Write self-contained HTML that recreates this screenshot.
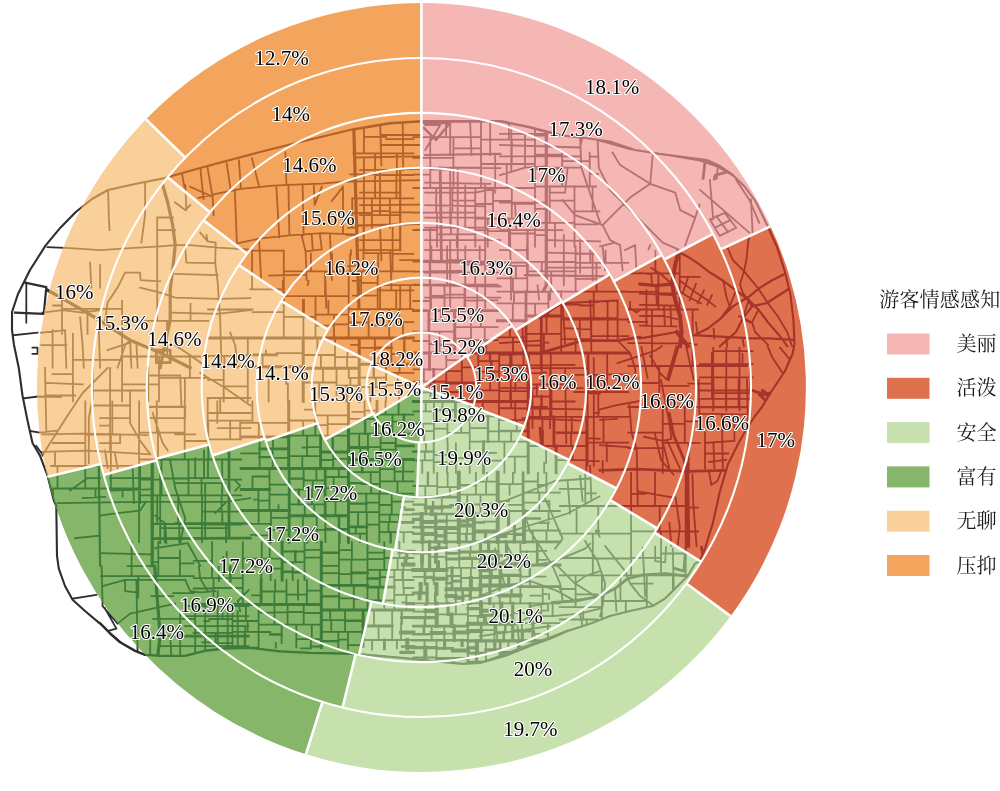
<!DOCTYPE html>
<html lang="zh"><head><meta charset="utf-8"><title>游客情感感知</title>
<style>
html,body{margin:0;padding:0;background:#fff}
body{width:1000px;height:791px;overflow:hidden}
svg{display:block}
.lab text{font-family:"Liberation Serif","Noto Serif CJK SC",serif;font-size:21px;text-anchor:middle;fill:#000;stroke:#fff;stroke-width:2.2px;paint-order:stroke fill;stroke-linejoin:round;font-kerning:none}
.cjk{font-family:"Liberation Serif","Noto Serif CJK SC",serif;font-size:20px;fill:#1a1a1a;font-weight:400}
</style></head><body>
<svg width="1000" height="791" viewBox="0 0 1000 791">
<rect width="1000" height="791" fill="#fff"/>
<defs><clipPath id="mapclip"><path d="M75.8,212.0L92.0,199.0L108.0,190.0L135.0,184.0L165.0,178.0L200.0,168.0L260.0,152.0L300.0,142.0L354.0,129.0L390.0,123.0L422.0,121.0L501.0,121.0L530.0,127.0L562.0,135.5L585.0,138.0L610.0,141.5L635.0,150.0L659.0,153.7L707.0,160.0L720.0,166.0L731.8,174.0L745.0,187.0L756.0,202.0L768.0,227.0L777.0,247.0L785.0,272.0L790.5,295.0L793.5,321.0L794.5,344.0L792.5,354.0L785.0,371.0L772.0,390.5L762.0,407.0L755.0,416.0L747.0,428.0L738.6,443.0L728.0,464.0L720.0,491.0L712.7,523.6L705.0,548.6L700.0,561.0L695.0,563.6L687.7,576.0L677.7,586.0L665.0,598.6L652.7,606.0L630.0,611.0L610.0,616.0L590.0,623.7L567.6,631.0L550.0,638.7L530.0,646.0L505.0,656.0L480.0,663.0L462.0,664.0L401.0,658.0L356.0,654.0L310.0,653.0L280.0,651.5L250.0,648.0L225.0,648.6L205.0,651.0L185.0,656.0L160.0,656.0L145.0,655.0L135.0,651.0L120.0,642.4L110.0,633.6L100.0,623.6L85.0,611.0L72.6,599.8L65.0,586.0L58.8,568.6L57.0,556.0L56.3,506.0L53.8,500.6L47.5,475.6L40.0,455.6L32.5,443.0L27.5,420.5L22.5,395.5L18.8,368.0L14.0,345.0L12.0,330.0L12.0,312.0L18.0,294.0L24.0,282.0L30.0,270.0L45.5,245.6L60.6,227.4Z"/></clipPath><g id="R" fill="none" stroke-linecap="square" stroke-linejoin="round"><g clip-path="url(#mapclip)"><path d="M122.1,300.8L122.1,401.3M62.0,300.0L62.0,333.8M53.1,305.5L62.0,305.5M62.0,308.9L122.1,308.9M87.5,308.9L87.5,333.8M72.9,333.8L72.9,401.3M52.6,374.1L72.9,374.1M72.9,359.8L122.1,359.8M122.1,320.9L208.1,320.9M190.5,303.9L190.5,320.9M122.1,356.5L208.1,356.5M167.1,320.9L167.1,356.5M159.0,356.5L159.0,401.3M122.1,384.4L159.0,384.4M159.0,377.9L208.1,377.9M189.9,356.5L189.9,377.9M184.9,377.9L184.9,401.3M353.3,153.3L413.4,153.3M363.9,100.0L363.9,153.3M351.2,124.7L363.9,124.7M363.9,119.4L413.4,119.4M395.1,100.0L395.1,119.4M363.9,136.8L386.1,136.8M386.1,139.1L413.4,139.1M353.3,198.3L413.4,198.3M375.1,153.3L375.1,198.3M350.3,174.3L375.1,174.3M375.1,175.0L413.4,175.0M396.9,153.3L396.9,175.0M396.4,175.0L396.4,198.3M352.2,198.3L352.2,227.7M389.9,198.3L389.9,227.7M371.9,198.3L371.9,227.7M352.2,213.0L371.9,213.0M371.9,211.2L389.9,211.2M389.9,212.3L413.4,212.3M283.8,252.2L283.8,338.0M250.1,289.3L283.8,289.3M252.1,252.4L252.1,289.3M252.1,250.7L283.8,250.7M208.1,309.5L252.5,309.5M252.5,312.2L283.8,312.2M283.8,271.4L413.4,271.4M363.5,227.7L363.5,271.4M332.1,254.0L332.1,271.4M310.9,253.6L310.9,271.4M350.9,250.1L350.9,254.5M350.1,254.5L350.1,271.4M392.6,227.7L392.6,271.4M363.5,253.1L392.6,253.1M378.2,253.1L378.2,271.4M392.6,253.8L413.4,253.8M348.7,271.4L348.7,338.0M283.8,296.2L348.7,296.2M325.1,271.4L325.1,296.2M315.5,296.2L315.5,338.0M283.8,316.8L315.5,316.8M303.4,316.8L303.4,338.0M315.5,314.6L348.7,314.6M328.4,300.8L328.4,314.6M334.0,314.6L334.0,338.0M315.5,325.7L334.0,325.7M334.0,324.4L348.7,324.4M348.7,309.2L413.4,309.2M377.7,271.4L377.7,309.2M352.8,295.6L377.7,295.6M361.1,271.4L361.1,295.6M352.8,280.8L361.1,280.8M361.1,282.8L377.7,282.8M377.7,290.3L413.4,290.3M391.3,271.4L391.3,290.3M396.2,290.3L396.2,309.2M389.2,309.2L389.2,338.0M368.6,309.2L368.6,338.0M348.7,322.5L368.6,322.5M368.6,325.5L389.2,325.5M389.2,322.1L413.4,322.1M399.2,309.2L399.2,322.1M403.0,322.1L403.0,338.0M247.8,338.0L247.8,401.3M208.1,366.1L247.8,366.1M208.1,355.9L247.8,355.9M224.4,355.9L224.4,366.1M223.7,366.1L223.7,401.3M208.1,379.9L223.7,379.9M223.7,386.3L247.8,386.3M265.9,350.7L265.9,354.9M262.6,354.9L262.6,366.8M276.6,353.2L303.2,353.2M268.6,366.8L268.6,401.3M286.2,366.8L286.2,383.8M287.9,383.8L287.9,401.3M335.0,338.0L335.0,368.2M303.2,355.0L335.0,355.0M317.4,338.0L317.4,355.0M320.9,355.0L320.9,368.2M335.0,357.1L359.2,357.1M351.1,344.9L359.2,344.9M347.5,353.0L347.5,357.1M347.1,357.1L347.1,368.2M336.5,368.2L336.5,401.3M303.2,382.5L336.5,382.5M323.0,368.2L323.0,382.5M319.2,382.5L319.2,401.3M336.5,385.7L359.2,385.7M350.1,377.9L359.2,377.9M348.8,368.2L348.8,377.9M350.4,377.9L350.4,385.7M391.4,338.0L391.4,364.2M374.9,338.0L374.9,364.2M359.2,347.8L374.9,347.8M391.4,354.0L413.4,354.0M404.0,354.0L404.0,364.2M386.1,364.2L386.1,401.3M359.2,387.1L386.1,387.1M359.2,377.6L386.1,377.6M375.8,377.6L375.8,387.1M370.4,387.1L370.4,401.3M386.1,385.2L413.4,385.2M386.1,372.8L413.4,372.8M399.6,364.2L399.6,372.8M397.7,372.8L397.7,385.2M399.0,385.2L399.0,401.3M139.1,401.3L139.1,542.2M53.2,488.5L139.1,488.5M85.3,401.3L85.3,488.5M52.8,443.0L85.3,443.0M51.0,466.0L85.3,466.0M55.0,452.2L55.0,466.0M57.5,466.0L57.5,488.5M85.3,434.7L139.1,434.7M112.3,401.3L112.3,434.7M85.3,465.9L139.1,465.9M110.9,434.7L110.9,465.9M110.8,465.9L110.8,488.5M53.0,488.5L53.0,496.8M95.5,488.5L95.5,496.8M122.6,488.5L122.6,496.7M139.1,459.5L241.2,459.5M184.7,401.3L184.7,459.5M139.1,432.7L184.7,432.7M156.8,401.3L156.8,432.7M158.0,432.7L158.0,459.5M217.3,401.3L217.3,422.8M208.3,422.8L208.3,459.5M184.7,441.0L208.3,441.0M208.3,439.3L241.2,439.3M139.1,495.3L241.2,495.3M188.5,459.5L188.5,495.3M161.5,459.5L161.5,495.3M139.1,479.6L161.5,479.6M161.5,478.5L188.5,478.5M222.2,459.5L222.2,495.3M188.5,478.1L222.2,478.1M208.0,459.5L208.0,478.1M201.5,478.1L201.5,495.3M222.2,479.7L241.2,479.7M202.0,495.3L202.0,542.2M151.7,524.0L202.0,524.0M178.2,495.3L178.2,524.0M157.2,495.3L157.2,524.0M164.6,524.0L164.6,542.2M179.3,524.0L179.3,542.2M202.0,524.5L241.2,524.5M202.0,511.7L241.2,511.7M221.6,495.3L221.6,511.7M222.3,511.7L222.3,524.5M226.1,524.5L226.1,542.2M241.2,422.8L288.7,422.8M252.4,401.3L252.4,422.8M258.8,422.8L258.8,436.8M259.6,436.8L259.6,468.6M241.2,453.4L259.6,453.4M273.0,436.8L273.0,448.8M272.7,448.8L272.7,468.6M272.7,457.9L288.7,457.9M288.7,435.6L348.5,435.6M315.3,401.3L315.3,435.6M288.7,420.5L315.3,420.5M304.8,409.7L315.3,409.7M303.2,420.5L303.2,435.6M315.3,415.4L348.5,415.4M327.7,415.4L327.7,435.6M315.3,425.1L327.7,425.1M327.7,424.2L348.5,424.2M288.7,456.1L320.6,456.1M307.1,435.6L307.1,456.1M302.5,447.5L307.1,447.5M307.1,447.2L320.6,447.2M302.3,456.1L302.3,468.6M333.2,452.0L333.2,468.6M320.6,460.0L333.2,460.0M333.2,458.8L348.5,458.8M269.5,468.6L269.5,510.4M253.3,476.5L269.5,476.5M252.5,476.5L252.5,489.5M258.4,489.5L258.4,510.4M254.1,499.7L258.4,499.7M258.4,500.6L269.5,500.6M269.5,494.6L289.2,494.6M269.5,484.7L289.2,484.7M278.5,505.1L278.5,510.4M271.0,510.4L271.0,542.2M241.2,523.8L271.0,523.8M258.7,510.4L258.7,523.8M250.9,534.9L255.7,534.9M255.7,535.3L271.0,535.3M271.0,530.1L289.2,530.1M271.0,517.8L289.2,517.8M289.2,489.6L325.2,489.6M303.6,468.6L303.6,489.6M303.6,480.4L325.2,480.4M316.4,468.6L316.4,480.4M312.8,480.4L312.8,489.6M289.2,504.4L325.2,504.4M312.0,489.6L312.0,504.4M304.7,504.4L304.7,515.7M314.3,504.4L314.3,515.7M325.2,488.2L348.5,488.2M325.2,477.0L348.5,477.0M338.8,468.6L338.8,477.0M333.7,477.0L333.7,488.2M325.2,501.0L348.5,501.0M335.7,488.2L335.7,501.0M335.5,501.0L335.5,515.7M325.4,515.7L325.4,542.2M289.2,529.9L325.4,529.9M302.9,515.7L302.9,529.9M316.7,515.7L316.7,529.9M317.1,529.9L317.1,542.2M348.5,433.6L413.4,433.6M348.5,418.8L377.0,418.8M364.6,401.3L364.6,418.8M352.5,411.9L364.6,411.9M364.6,410.6L377.0,410.6M377.0,414.6L413.4,414.6M398.6,401.3L398.6,414.6M385.5,401.3L385.5,414.6M392.5,414.6L392.5,433.6M377.0,425.1L392.5,425.1M392.5,421.7L403.9,421.7M403.9,424.3L413.4,424.3M380.6,433.6L380.6,459.6M367.9,433.6L367.9,459.6M359.2,433.6L359.2,447.5M360.3,447.5L360.3,459.6M367.9,447.1L380.6,447.1M395.8,433.6L395.8,459.6M380.6,443.0L395.8,443.0M380.6,449.6L395.8,449.6M348.5,493.7L413.4,493.7M379.9,459.6L379.9,493.7M348.5,472.2L379.9,472.2M361.6,484.0L379.9,484.0M370.7,472.2L370.7,484.0M371.2,484.0L371.2,493.7M379.9,481.4L413.4,481.4M394.6,459.6L394.6,481.4M379.9,469.1L394.6,469.1M394.6,471.6L413.4,471.6M403.3,459.6L403.3,471.6M403.0,471.6L403.0,481.4M397.5,481.4L397.5,493.7M379.3,493.7L379.3,542.2M348.5,512.2L379.3,512.2M366.3,493.7L366.3,512.2M366.3,502.6L379.3,502.6M366.8,512.2L366.8,542.2M358.1,512.2L358.1,526.9M348.5,533.7L366.8,533.7M355.8,526.9L355.8,533.7M360.1,533.7L360.1,542.2M366.8,524.6L379.3,524.6M379.3,514.6L413.4,514.6M391.7,493.7L391.7,514.6M379.3,505.0L391.7,505.0M391.7,501.7L413.4,501.7M402.8,493.7L402.8,501.7M400.7,507.4L405.1,507.4M379.3,532.1L413.4,532.1M399.3,514.6L399.3,532.1M379.3,521.9L399.3,521.9M389.8,514.6L389.8,521.9M388.5,521.9L388.5,532.1M397.4,532.1L397.4,542.2M403.7,532.1L403.7,542.2M153.3,618.8L193.7,618.8M101.1,576.1L193.7,576.1M131.6,542.2L131.6,576.1M158.3,542.2L158.3,576.1M153.8,562.2L158.3,562.2M179.9,550.7L179.9,576.1M158.3,558.0L179.9,558.0M179.9,563.4L193.7,563.4M138.3,576.1L138.3,597.5M151.4,596.2L173.3,596.2M173.3,593.2L193.7,593.2M242.8,542.2L242.8,604.5M193.7,578.2L242.8,578.2M212.1,542.2L212.1,578.2M193.7,560.8L212.1,560.8M226.7,551.9L226.7,556.8M223.3,556.8L223.3,578.2M213.5,578.2L213.5,604.5M193.7,588.5L213.5,588.5M213.5,588.0L242.8,588.0M225.0,600.4L225.0,604.5M242.8,558.7L282.1,558.7M261.7,542.2L261.7,558.7M269.7,542.2L269.7,558.7M261.3,558.7L261.3,580.1M252.1,566.6L261.3,566.6M261.3,568.7L282.1,568.7M270.6,568.7L270.6,580.1M304.5,542.2L304.5,580.1M282.1,562.1L304.5,562.1M282.1,551.5L304.5,551.5M292.7,562.1L292.7,580.1M304.5,557.7L321.3,557.7M304.5,549.8L321.3,549.8M286.5,580.1L286.5,604.5M252.0,595.4L261.1,595.4M261.1,591.5L286.5,591.5M275.2,580.1L275.2,591.5M274.4,591.5L274.4,604.5M306.9,580.1L306.9,604.5M286.5,594.7L306.9,594.7M297.9,580.1L297.9,594.7M298.0,594.7L298.0,599.6M306.9,590.6L321.3,590.6M258.6,604.5L258.6,646.0M232.5,604.5L232.5,646.5M193.7,632.8L232.5,632.8M204.1,621.1L209.3,621.1M209.3,619.0L232.5,619.0M222.6,604.5L222.6,619.0M215.5,632.8L215.5,645.9M202.4,642.4L215.5,642.4M215.5,643.2L232.5,643.2M232.5,631.9L258.6,631.9M232.5,621.0L258.6,621.0M245.9,604.5L245.9,621.0M247.6,621.0L247.6,631.9M232.5,647.7L258.6,647.7M244.6,631.9L244.6,647.7M258.6,624.7L321.3,624.7M287.6,604.5L287.6,624.7M274.5,604.5L274.5,624.7M258.6,612.6L274.5,612.6M274.5,612.3L287.6,612.3M303.7,604.5L303.7,624.7M287.6,612.0L303.7,612.0M303.7,613.0L321.3,613.0M296.3,624.7L296.3,647.4M281.6,624.7L281.6,643.2M258.6,632.0L270.3,632.0M275.8,643.2L275.8,647.6M296.3,639.1L321.3,639.1M311.8,624.7L311.8,639.1M310.8,639.1L310.8,647.8M301.1,648.3L310.8,648.3M310.8,646.5L321.3,646.5M367.5,542.2L367.5,610.0M338.9,542.2L338.9,585.4M321.3,565.9L338.9,565.9M321.3,573.2L338.9,573.2M338.9,559.7L367.5,559.7M351.9,542.2L351.9,559.7M338.9,550.1L351.9,550.1M351.4,559.7L351.4,585.4M338.9,574.2L351.4,574.2M339.1,585.4L339.1,610.0M353.8,585.4L353.8,610.0M339.1,598.4L353.8,598.4M353.8,598.9L367.5,598.9M367.5,569.9L413.4,569.9M384.3,542.2L384.3,569.9M367.5,552.7L384.3,552.7M367.5,559.1L384.3,559.1M384.3,558.0L413.4,558.0M399.5,542.2L399.5,558.0M397.6,558.0L397.6,569.9M403.6,564.4L403.6,569.9M394.3,569.9L394.3,610.0M379.8,569.9L379.8,587.2M379.8,577.2L394.3,577.2M367.5,600.5L394.3,600.5M378.4,587.2L378.4,600.5M384.3,600.5L384.3,610.0M394.3,594.8L413.4,594.8M394.3,580.0L413.4,580.0M403.8,588.0L413.4,588.0M403.3,580.0L403.3,588.0M403.8,588.0L403.8,594.8M406.4,594.8L406.4,610.0M402.4,602.5L406.4,602.5M321.3,631.8L363.1,631.8M345.1,610.0L345.1,631.8M321.3,620.1L345.1,620.1M330.2,610.0L330.2,620.1M331.3,620.1L331.3,631.8M348.0,631.8L348.0,648.8M338.3,631.8L338.3,648.8M338.3,639.7L348.0,639.7M348.0,645.1L363.1,645.1M363.1,640.0L413.4,640.0M392.2,610.0L392.2,640.0M374.0,610.0L374.0,626.0M378.6,626.0L378.6,640.0M401.1,623.4L401.1,640.0M372.1,640.0L372.1,649.6M396.9,640.0L396.9,648.3M404.6,689.5L404.6,694.7M535.0,100.0L535.0,246.5M413.4,188.0L535.0,188.0M481.0,100.0L481.0,188.0M413.4,137.1L481.0,137.1M446.1,100.0L446.1,137.1M453.4,137.1L453.4,188.0M413.4,157.8L453.4,157.8M430.2,137.1L430.2,157.8M430.3,157.8L430.3,188.0M413.4,174.6L430.3,174.6M430.3,169.5L453.4,169.5M453.4,167.7L481.0,167.7M453.4,148.3L481.0,148.3M481.0,139.6L535.0,139.6M508.9,100.0L508.9,139.6M481.0,117.0L508.9,117.0M508.9,120.8L535.0,120.8M481.0,164.0L535.0,164.0M511.8,139.6L511.8,164.0M506.7,164.0L506.7,188.0M475.3,188.0L475.3,246.5M413.4,212.7L475.3,212.7M436.2,188.0L436.2,212.7M452.4,188.0L452.4,212.7M452.4,200.7L475.3,200.7M437.0,212.7L437.0,246.5M413.4,230.0L437.0,230.0M437.0,234.3L475.3,234.3M450.9,212.7L450.9,234.3M456.8,234.3L456.8,246.5M475.3,218.6L535.0,218.6M511.8,188.0L511.8,218.6M493.0,188.0L493.0,218.6M475.3,204.0L493.0,204.0M493.0,200.9L511.8,200.9M511.8,203.8L535.0,203.8M508.9,218.6L508.9,246.5M487.7,218.6L487.7,246.5M475.3,230.2L487.7,230.2M487.7,231.2L508.9,231.2M508.9,233.5L535.0,233.5M535.0,186.5L596.0,186.5M535.0,135.6L547.2,135.6M535.0,119.6L547.5,119.6M589.7,152.6L589.7,186.5M562.2,152.6L562.2,186.5M535.0,154.7L562.2,154.7M535.0,169.1L562.2,169.1M562.2,161.1L589.7,161.1M589.7,156.7L598.3,156.7M589.7,173.8L598.2,173.8M574.5,186.5L574.5,246.5M535.0,222.9L574.5,222.9M549.7,186.5L549.7,222.9M535.0,208.9L549.7,208.9M549.7,200.7L574.5,200.7M555.1,222.9L555.1,246.5M535.0,235.1L547.1,235.1M574.5,211.4L599.4,211.4M592.6,186.5L592.6,211.4M574.5,224.4L597.0,224.4M413.4,284.7L497.5,284.7M447.1,246.5L447.1,284.7M413.4,261.6L447.1,261.6M431.4,246.5L431.4,261.6M429.7,261.6L429.7,284.7M413.4,271.6L429.7,271.6M429.7,271.2L447.1,271.2M465.3,246.5L465.3,284.7M447.1,270.8L465.3,270.8M447.1,260.1L465.3,260.1M465.3,264.7L497.5,264.7M479.7,246.5L479.7,264.7M444.5,284.7L444.5,310.6M431.0,284.7L431.0,310.6M413.4,301.0L431.0,301.0M431.0,295.9L444.5,295.9M464.5,284.7L464.5,310.6M444.5,294.7L464.5,294.7M477.2,284.7L477.2,310.6M464.5,300.7L477.2,300.7M477.2,300.3L497.5,300.3M413.4,331.6L454.7,331.6M441.1,310.6L441.1,320.6M429.4,331.6L429.4,352.9M413.4,341.0L429.4,341.0M439.5,331.6L439.5,352.9M439.5,345.1L454.7,345.1M454.7,327.1L497.5,327.1M480.9,310.6L480.9,327.1M470.8,310.6L470.8,327.1M471.0,327.1L471.0,352.9M454.7,338.7L471.0,338.7M471.0,340.1L497.5,340.1M484.7,327.1L484.7,340.1M497.5,291.7L628.3,291.7M575.6,246.5L575.6,291.7M527.3,246.5L527.3,291.7M497.5,265.9L527.3,265.9M497.5,278.3L527.3,278.3M515.9,265.9L515.9,278.3M512.9,278.3L512.9,291.7M527.3,271.4L575.6,271.4M527.3,261.8L552.4,261.8M541.8,261.8L541.8,271.4M552.4,262.0L575.6,262.0M551.2,271.4L551.2,291.7M575.6,262.9L628.3,262.9M605.6,250.6L605.6,262.9M590.3,250.6L590.3,262.9M596.5,262.9L596.5,291.7M575.6,278.8L596.5,278.8M561.2,291.7L561.2,352.9M497.5,303.4L526.0,303.4M514.0,291.7L514.0,303.4M512.8,303.4L512.8,320.8M497.5,337.3L526.0,337.3M509.9,320.8L509.9,337.3M513.0,337.3L513.0,352.9M548.4,291.7L548.4,316.1M526.0,303.7L548.4,303.7M535.1,303.7L535.1,316.1M526.0,333.9L561.2,333.9M546.5,316.1L546.5,333.9M543.9,333.9L543.9,352.9M526.0,345.5L543.9,345.5M543.9,342.7L548.2,342.7M561.2,319.5L628.3,319.5M593.7,291.7L593.7,319.5M561.2,304.7L580.3,304.7M580.3,305.5L593.7,305.5M593.7,302.2L598.0,302.2M591.3,319.5L591.3,352.9M561.2,339.1L591.3,339.1M579.8,319.5L579.8,339.1M575.6,339.1L575.6,352.9M591.3,336.2L628.3,336.2M478.3,352.9L478.3,401.4M446.3,352.9L446.3,401.4M413.4,381.7L446.3,381.7M413.4,369.3L446.3,369.3M423.9,369.3L423.9,381.7M430.4,381.7L430.4,401.4M413.4,392.3L430.4,392.3M430.4,393.6L446.3,393.6M461.8,352.9L461.8,383.0M446.3,371.2L461.8,371.2M446.3,360.1L461.8,360.1M461.8,367.4L478.3,367.4M459.9,383.0L459.9,401.4M499.2,352.9L499.2,401.4M478.3,371.7L499.2,371.7M478.3,361.1L499.2,361.1M478.3,390.4L499.2,390.4M490.8,371.7L490.8,379.1M490.2,379.1L490.2,390.4M499.2,379.8L528.2,379.8M499.2,365.4L528.2,365.4M517.7,365.4L517.7,379.8M499.2,391.1L528.2,391.1M515.4,379.8L515.4,391.1M510.2,391.1L510.2,401.4M469.7,401.4L469.7,472.8M433.9,401.4L433.9,443.4M413.4,423.7L433.9,423.7M413.4,411.4L433.9,411.4M425.7,401.4L425.7,411.4M420.8,411.4L420.8,423.7M413.4,431.1L433.9,431.1M423.0,423.7L423.0,431.1M424.3,431.1L424.3,443.4M433.9,420.0L469.7,420.0M442.4,401.4L442.4,410.2M455.4,411.3L469.7,411.3M447.4,420.0L447.4,443.4M433.9,428.6L447.4,428.6M447.4,432.8L469.7,432.8M461.2,420.0L461.2,432.8M433.7,443.4L433.7,472.8M413.4,460.3L433.7,460.3M426.0,443.4L426.0,451.6M424.8,451.6L424.8,460.3M422.3,460.3L422.3,472.8M455.9,443.4L455.9,472.8M433.7,462.1L455.9,462.1M433.7,454.8L455.9,454.8M447.7,443.4L447.7,454.8M442.7,454.8L442.7,462.1M446.9,462.1L446.9,472.8M455.9,458.2L469.7,458.2M469.7,441.6L528.2,441.6M498.9,401.4L498.9,441.6M469.7,416.4L498.9,416.4M482.7,401.4L482.7,416.4M469.7,428.1L488.0,428.1M488.0,431.3L498.9,431.3M498.9,420.1L528.2,420.1M515.2,401.4L515.2,420.1M516.7,420.1L516.7,431.0M511.2,431.0L511.2,441.6M504.4,441.6L504.4,472.8M469.7,455.5L483.5,455.5M483.5,460.6L504.4,460.6M483.5,452.9L496.1,452.9M504.4,456.7L528.2,456.7M514.8,456.7L514.8,472.8M528.2,416.9L628.3,416.9M528.2,384.5L574.5,384.5M550.8,352.9L550.8,384.5M528.2,365.4L550.8,365.4M540.9,352.9L540.9,365.4M541.6,365.4L541.6,384.5M528.2,373.1L541.6,373.1M541.6,372.5L546.2,372.5M550.8,364.9L574.5,364.9M551.5,384.5L551.5,416.9M528.2,396.5L551.5,396.5M536.7,384.5L536.7,396.5M528.2,406.8L546.9,406.8M551.5,401.5L574.5,401.5M574.5,392.0L628.3,392.0M607.2,352.9L607.2,392.0M574.5,374.9L607.2,374.9M588.5,352.9L588.5,374.9M607.2,374.3L628.3,374.3M598.3,392.0L598.3,416.9M586.3,416.9L586.3,472.8M528.2,446.0L586.3,446.0M542.4,416.9L542.4,431.2M553.9,432.4L586.3,432.4M571.8,416.9L571.8,432.4M571.1,432.4L571.1,446.0M546.1,446.0L546.1,462.8M544.2,462.8L544.2,472.8M556.1,460.2L586.3,460.2M572.6,446.0L572.6,460.2M586.3,442.6L628.3,442.6M603.5,416.9L603.5,442.6M586.3,461.2L598.9,461.2M606.8,442.6L606.8,461.2M602.7,461.2L602.7,472.8M628.3,366.0L746.9,366.0M628.3,309.5L697.8,309.5M679.7,250.7L679.7,309.5M628.3,273.3L679.7,273.3M655.4,251.0L655.4,273.3M658.4,273.3L658.4,309.5M628.3,291.9L658.4,291.9M658.4,293.3L679.7,293.3M679.7,276.9L699.7,276.9M692.6,309.5L692.6,366.0M652.0,309.5L652.0,366.0M628.3,343.2L652.0,343.2M628.3,321.8L647.2,321.8M652.0,343.4L692.6,343.4M742.5,353.9L742.5,366.0M692.6,344.5L696.8,344.5M711.9,353.1L711.9,366.0M712.0,366.0L712.0,398.9M628.3,407.0L699.4,407.0M659.2,366.0L659.2,407.0M628.3,383.0L659.2,383.0M659.2,385.8L688.3,385.8M688.3,383.6L712.0,383.6M662.7,407.0L662.7,472.8M628.3,448.1L662.7,448.1M628.3,432.7L662.7,432.7M662.7,442.8L699.7,442.8M684.8,407.0L684.8,442.8M662.7,423.8L684.8,423.8M684.8,421.4L698.4,421.4M688.7,442.8L688.7,472.8M749.9,366.0L749.9,399.8M712.0,393.1L749.9,393.1M413.4,603.4L559.9,603.4M437.2,472.8L437.2,497.2M413.4,485.8L437.2,485.8M425.3,485.8L425.3,497.2M437.2,487.1L458.8,487.1M447.6,472.8L447.6,487.1M449.8,487.1L449.8,497.2M441.8,497.2L441.8,514.0M446.7,514.0L446.7,527.9M446.7,520.7L458.8,520.7M445.5,533.2L458.8,533.2M458.8,513.6L497.7,513.6M458.8,494.7L497.7,494.7M475.9,472.8L475.9,494.7M475.9,481.6L497.7,481.6M486.9,472.8L486.9,481.6M486.1,481.6L486.1,494.7M480.5,494.7L480.5,513.6M458.8,504.4L480.5,504.4M467.2,494.7L467.2,504.4M480.5,504.3L497.7,504.3M491.5,504.3L491.5,513.6M458.8,533.9L473.8,533.9M467.1,525.4L467.1,533.9M483.6,521.6L497.7,521.6M497.7,511.0L559.9,511.0M497.7,484.1L523.1,484.1M512.9,472.8L512.9,484.1M509.6,484.1L509.6,494.6M497.7,501.2L509.1,501.2M509.1,504.9L523.1,504.9M523.1,492.6L559.9,492.6M546.4,472.8L546.4,492.6M537.9,472.8L537.9,492.6M523.1,481.5L537.9,481.5M539.3,492.6L539.3,511.0M523.1,502.6L539.3,502.6M549.4,501.8L549.4,511.0M539.3,501.1L549.4,501.1M505.4,534.1L514.4,534.1M524.0,530.5L559.9,530.5M539.8,523.2L547.8,523.2M548.6,511.0L548.6,523.2M548.0,523.2L548.0,530.5M546.5,530.5L546.5,541.9M532.8,530.5L532.8,541.9M446.5,541.9L446.5,603.4M422.7,541.9L422.7,553.2M429.6,556.8L446.5,556.8M433.8,570.1L433.8,584.0M413.4,576.8L425.0,576.8M446.5,567.9L480.5,567.9M459.3,541.9L459.3,567.9M470.6,541.9L470.6,552.0M470.1,552.0L470.1,558.3M472.1,558.3L472.1,567.9M461.0,567.9L461.0,589.2M446.5,576.0L461.0,576.0M461.0,578.0L480.5,578.0M470.9,567.9L470.9,578.0M455.8,589.2L455.8,603.4M470.3,597.6L480.5,597.6M520.4,541.9L520.4,603.4M498.4,541.9L498.4,564.5M499.7,585.4L499.7,603.4M510.3,595.6L510.3,603.4M520.4,551.7L537.3,551.7M537.3,550.8L546.3,550.8M537.3,559.8L546.2,559.8M520.4,576.6L545.4,576.6M529.9,576.6L529.9,586.7M542.7,586.7L542.7,603.4M530.6,595.6L542.7,595.6M542.7,594.2L547.0,594.2M549.1,594.2L549.1,598.8M467.9,603.4L467.9,696.0M425.5,603.4L425.5,617.7M413.4,611.6L425.5,611.6M436.7,614.4L467.9,614.4M455.9,603.4L455.9,614.4M444.3,626.1L444.3,640.3M431.7,626.1L431.7,640.3M444.3,633.7L454.3,633.7M436.5,640.3L436.5,675.3M413.4,657.5L436.5,657.5M424.5,640.3L424.5,647.6M424.2,657.5L424.2,675.3M452.9,664.6L467.9,664.6M459.9,688.1L459.9,694.0M493.8,603.4L493.8,623.7M467.9,615.9L493.8,615.9M477.8,615.9L477.8,623.7M502.2,615.3L502.2,623.7M494.5,623.7L494.5,640.9M481.1,630.1L494.5,630.1M494.5,632.1L512.7,632.1M512.7,623.1L559.9,623.1M512.7,613.2L530.1,613.2M541.1,603.4L541.1,623.1M530.1,612.8L541.1,612.8M541.1,610.6L545.8,610.6M548.0,603.4L548.0,610.6M532.3,623.1L532.3,640.9M521.9,623.1L521.9,630.9M547.9,623.1L547.9,640.9M532.3,633.9L547.9,633.9M485.9,640.9L485.9,662.4M508.3,640.9L508.3,646.7M497.2,662.4L497.2,695.8M467.9,681.6L497.2,681.6M483.1,662.4L483.1,681.6M510.0,662.4L510.0,680.5M497.2,673.9L510.0,673.9M518.5,656.6L547.5,656.6M535.3,640.9L535.3,656.6M518.5,647.2L535.3,647.2M548.0,640.9L548.0,656.6M535.3,648.8L548.0,648.8M540.8,656.6L540.8,677.3M531.7,656.6L531.7,677.3M531.7,669.8L540.8,669.8M540.8,666.4L545.6,666.4M518.5,690.0L536.7,690.0M547.7,677.3L547.7,689.4M549.5,689.4L549.5,694.7M559.9,575.4L699.9,575.4M685.7,472.8L685.7,575.4M631.1,472.8L631.1,575.4M559.9,533.7L631.1,533.7M559.9,506.0L631.1,506.0M585.3,472.8L585.3,506.0M559.9,488.9L585.3,488.9M585.3,493.4L595.8,493.4M598.3,506.0L598.3,533.7M576.6,506.0L576.6,533.7M592.8,533.7L592.8,575.4M559.9,558.0L592.8,558.0M592.8,558.5L631.1,558.5M631.1,531.4L685.7,531.4M631.1,506.0L685.7,506.0M655.0,472.8L655.0,506.0M631.1,493.9L645.5,493.9M659.7,506.0L659.7,531.4M661.0,531.4L661.0,575.4M631.1,557.9L661.0,557.9M661.0,553.5L685.7,553.5M685.7,531.5L698.0,531.5M685.7,507.7L698.0,507.7M672.9,575.4L672.9,599.5M559.9,641.1L648.7,641.1M601.9,575.4L601.9,641.1M559.9,607.1L601.9,607.1M575.6,575.4L575.6,607.1M559.9,589.0L575.6,589.0M575.6,594.3L597.5,594.3M559.9,619.5L597.7,619.5M583.2,607.1L583.2,619.5M586.7,619.5L586.7,641.1M646.8,575.4L646.8,641.1M601.9,601.0L646.8,601.0M620.4,575.4L620.4,601.0M625.8,601.0L625.8,641.1M601.9,625.3L625.8,625.3M625.8,624.0L646.8,624.0M628.3,641.1L628.3,649.5M596.6,641.1L596.6,649.5M578.5,641.1L578.5,646.3M47.5,247.1L70.1,248.1L100.1,250.1L130.1,248.1L160.2,246.3L175.2,245.1L190.2,245.1L217.7,247.6L250.3,249.6M108.1,188.8L108.9,220.1L109.6,230.1M145.1,183.8L145.1,215.0L141.4,242.6M157.2,217.5L157.2,320.2M157.2,217.5L172.7,217.5M157.2,230.1L175.2,230.1M185.2,247.6L186.4,262.6L215.2,263.1L215.7,242.6L207.7,241.3L206.5,235.1M215.2,263.1L217.7,282.6L220.2,320.2L221.5,367.7M175.2,273.9L217.7,275.1M125.1,272.6L140.1,272.6L140.6,280.1L160.2,281.4M125.1,272.6L117.6,287.6L107.6,302.6L105.1,320.2M90.1,262.6L91.3,287.6M100.1,265.1L100.1,287.6M42.5,312.6L62.6,310.1L82.6,312.6L100.1,310.1M140.1,287.6L160.2,292.6L175.2,297.6L217.7,298.9L250.3,298.1M172.7,312.6L217.7,313.9L250.3,310.1M26.3,282.6L26.3,322.7M13.8,335.2L37.5,332.7M32.5,347.7L37.5,347.7L37.5,353.9L32.5,353.9M41.3,332.7L65.1,330.2L66.3,367.7M41.3,345.2L66.3,345.2M52.6,330.2L52.6,367.7M80.1,317.6L82.6,345.2L83.8,367.7M98.8,330.2L100.1,367.7M107.6,350.2L130.1,342.7M117.6,367.7L125.1,345.2L130.1,340.2M130.1,340.2L131.4,367.7M136.4,342.7L137.6,367.7M175.2,345.2L190.2,355.2L207.7,367.7M230.2,332.7L235.2,345.2L237.7,367.7M175.2,202.5L185.2,210.0L190.2,205.0M185.2,185.0L186.4,210.0M200.2,232.6L207.7,241.3M356.4,157.5L420.2,156.3M348.3,181.7L420.2,180.1M348.2,227.9L356.4,227.6M347.0,235.1L355.1,235.1M308.6,281.0L307.6,285.2M348.1,266.2L360.1,265.2M282.8,280.9L283.8,307.7M325.4,280.6L326.3,307.7M380.1,121.3L381.4,165.1M402.7,121.3L403.2,170.1M381.4,135.0L420.2,135.0M381.4,145.0L420.2,145.0M360.1,170.1L420.2,168.8M363.9,157.5L363.9,250.1M380.1,170.1L380.1,215.1M360.1,192.6L400.2,192.6M360.1,205.1L420.2,204.6M360.1,215.1L400.2,215.1M360.1,240.1L400.2,240.1M380.1,227.6L381.4,260.2M360.1,250.1L400.2,250.1M400.2,260.2L420.2,260.2M390.1,250.1L391.4,285.2M380.1,285.2L420.2,285.2M380.1,285.2L380.1,307.7M400.2,285.2L400.2,307.7M410.2,285.2L410.2,307.7M425.2,122.5L500.3,120.5M425.2,125.0L440.2,125.0L425.2,150.0M450.2,122.5L450.2,155.0M470.2,122.5L471.5,155.0M490.2,122.5L490.2,155.0M425.2,167.6L500.3,168.1M425.2,182.6L490.2,183.8M425.2,192.6L475.2,192.6L500.3,187.6M425.2,205.1L485.2,206.3M425.2,217.6L485.2,217.6M425.2,227.6L500.3,227.6M425.2,240.1L500.3,240.1M425.2,250.1L485.2,250.1M425.2,272.7L500.3,272.7M425.2,297.7L500.3,297.7M450.2,167.6L450.2,227.6M457.7,167.6L457.7,260.2M465.2,183.8L465.2,227.6M475.2,192.6L475.2,240.1M485.2,183.8L485.2,307.7M495.2,153.8L495.2,192.6M430.2,227.6L430.2,307.7M450.2,240.1L450.2,307.7M465.2,262.7L465.2,307.7M475.2,262.7L475.2,286.4M511.3,127.5L511.3,170.1M500.0,145.0L580.1,147.5L582.6,136.3M500.0,156.3L580.1,156.3M580.1,136.3L581.3,167.6L600.1,222.6M597.6,140.0L598.8,167.6L610.1,190.1L662.7,242.6L678.2,249.3M612.6,152.5L620.1,165.1L650.2,183.8L675.2,192.6L680.2,210.1L695.2,217.6L685.2,245.1M652.7,155.0L650.2,183.8L630.1,197.6L602.6,225.1L610.1,240.1L620.1,245.1L622.6,270.2M699.5,204.7L695.2,217.6M717.7,166.3L716.9,178.6M500.0,175.1L525.0,167.6L545.0,166.3M550.1,167.6L580.1,167.6M550.1,192.6L565.1,192.6L567.6,167.6M500.0,202.6L545.0,202.6M562.6,200.1L575.1,215.1L602.6,225.1M500.0,230.1L562.6,230.1M563.8,235.1L563.8,285.2M580.1,240.1L580.1,272.7M592.6,250.1L592.6,280.2M547.5,240.1L600.1,241.4M547.5,252.6L595.1,253.9M547.5,267.7L600.1,267.7M515.0,292.7L562.6,291.4M600.1,246.4L615.1,242.6L620.1,245.1M602.6,246.4L605.1,270.2M635.1,245.1L636.4,270.2M625.1,250.1L635.1,245.1M650.2,245.1L648.5,249.3M525.0,133.8L525.0,167.6M500.0,133.8L545.0,133.8M515.0,202.6L516.3,230.1M500.0,250.1L527.5,250.1M500.0,262.7L527.5,262.7M510.0,230.1L511.1,299.5M537.5,285.2L539.1,299.5M550.1,291.4L550.1,299.6M57.6,503.1L140.1,501.9L225.2,501.9L250.3,498.1M204.0,450.6L204.0,478.1M107.6,368.0L82.6,393.0L67.6,415.5L50.1,443.1L42.5,455.6M200.2,373.0L225.2,388.0L250.3,405.5M42.5,434.3L82.6,433.6L120.1,434.3L147.6,435.1M42.5,451.8L87.6,450.6L150.2,454.3M110.1,368.0L110.1,450.6M92.6,368.0L92.6,398.0L88.8,418.1L88.8,463.1M92.6,390.5L147.6,390.5M92.6,405.5L130.1,405.5M130.1,390.5L130.1,423.1L140.1,440.6L150.2,454.3M45.0,368.0L46.3,430.6M45.0,395.5L75.1,395.5M46.3,383.0L82.6,384.3M150.2,418.1L185.2,418.1M185.2,406.8L185.2,418.1M152.7,413.0L162.7,443.1L167.7,450.6M175.2,434.3L195.2,434.3M207.7,398.0L207.7,433.1M207.7,398.0L250.3,398.0M207.7,413.0L250.3,413.0M207.7,420.6L250.3,420.6M217.7,428.1L250.3,428.1M220.2,398.0L220.2,413.0M230.2,420.6L230.2,438.1M240.2,420.6L240.2,438.1M70.1,490.6L87.6,478.1L100.1,478.1M82.6,498.1L105.1,496.9M100.1,515.6L117.6,513.1L140.1,510.6L145.1,503.1M75.1,538.2L100.1,535.7M100.1,553.2L150.2,554.4M170.2,460.6L175.2,488.1L185.2,518.2L180.2,543.2M155.2,515.6L165.2,523.2L166.4,543.2M175.2,483.1L225.2,483.1M215.2,513.1L225.2,503.1M155.2,548.2L187.7,543.2L200.2,565.7M235.2,480.6L240.2,485.6L235.2,490.6M132.6,465.6L133.9,503.1M140.1,464.3L140.1,503.1M110.1,478.1L150.2,478.1M110.1,490.6L150.2,489.4M195.2,458.1L195.2,478.1M150.2,375.5L180.2,375.5L181.4,406.8M100.1,418.1L130.1,418.1M100.1,425.6L110.1,425.6M100.1,443.1L120.1,443.1L120.1,434.3M105.1,450.6L107.6,468.1M115.1,454.3L117.6,468.1M160.2,468.1L160.2,543.2M175.2,523.2L250.3,523.2M205.2,483.1L205.2,538.2M160.2,528.2L229.0,528.2M102.6,586.1L125.1,579.8L185.2,579.8M101.6,566.1L102.6,606.1M127.6,566.1L152.7,566.1M136.4,579.8L137.6,651.1M117.6,623.6L130.1,613.6L175.2,603.6M160.2,636.1L185.2,636.1M150.2,641.1L150.2,656.2M180.2,611.1L180.2,656.2M72.6,598.6L96.3,594.8M105.1,608.6L116.4,628.6L107.6,631.1M198.8,566.3L200.2,578.6L207.7,591.1M218.6,566.9L219.0,581.1M185.2,579.8L190.2,591.1L200.2,592.3L215.2,591.1M248.7,590.1L237.7,601.1L240.2,611.1M185.2,606.1L248.2,606.1M185.2,616.1L248.2,616.1M185.2,626.1L248.2,626.1M185.2,646.1L248.2,646.1M195.2,606.1L195.2,656.2M205.2,606.1L205.2,653.6M217.7,591.1L217.7,651.1M227.7,606.1L227.7,649.9M237.7,611.1L237.7,648.6M245.2,626.1L245.2,648.6M160.2,646.1L185.2,646.1M170.2,636.1L171.4,656.2M125.1,579.8L125.1,591.1L136.4,592.3M102.6,606.1L117.6,623.6M596.4,531.1L599.7,536.7M605.1,546.1L625.1,571.1L630.2,583.6L640.2,596.1L652.7,604.9M585.1,541.1L597.6,561.1L605.1,583.6L602.6,606.1L600.1,616.2M642.7,547.6L645.2,596.1M655.2,546.8L655.2,561.1L665.2,562.3L666.0,547.2M672.7,548.6L673.9,591.1M545.1,498.5L562.6,538.6L555.1,548.6M480.0,541.1L567.6,513.5L599.2,496.5M530.1,566.1L555.1,561.1L585.1,548.6L590.1,543.6M525.0,516.1L530.1,531.1L552.6,566.1L560.1,583.6L562.6,601.1M505.0,541.1L520.0,571.1M557.6,566.1L575.1,583.6L595.1,596.1M575.1,583.6L585.1,576.1L600.1,571.1M537.6,583.6L557.6,591.1L575.1,601.1M530.1,606.1L585.1,598.6M552.6,602.4L552.6,616.2L580.1,613.6L600.1,608.6M580.1,613.6L582.6,626.2M512.5,626.2L530.1,616.2L552.6,616.2M480.0,596.1L505.0,586.1L530.1,581.1L537.6,583.6M495.0,548.6L505.0,586.1M480.0,571.1L495.0,566.1L512.5,556.1M480.0,506.0L505.0,501.0L555.1,481.0M567.6,481.0L570.1,513.5M580.1,476.0L582.6,501.0M555.1,481.0L590.1,478.5M590.1,466.0L591.4,501.0M480.0,616.2L495.0,613.6L512.5,626.2M495.0,613.6L497.5,641.2M517.5,626.2L520.0,651.2M532.6,616.2L535.1,641.2M480.0,636.2L550.1,626.2M615.1,588.6L616.4,611.1M630.2,583.6L652.7,583.6M660.9,380.0L665.1,401.0L669.3,422.0L671.4,438.8M636.7,449.3L637.8,506.0M637.8,491.3L673.5,497.6M692.4,474.5L693.4,506.0L696.6,545.9M709.2,472.4L711.3,485.0L717.6,480.8L720.7,472.4M698.7,390.5L747.0,390.5M698.7,398.9L751.2,398.9M698.7,407.3L747.0,407.3M713.4,380.0L713.4,407.3M726.0,380.0L726.0,407.3M738.6,380.0L738.6,407.3M705.0,432.5L705.0,468.2M713.4,443.0L714.4,468.2M705.0,443.0L734.4,440.9M705.0,453.5L728.1,453.5M709.2,461.9L726.0,459.8M600.0,409.4L616.8,405.2L639.9,401.0M600.0,419.9L616.8,418.8M600.0,445.1L627.3,447.2L636.7,449.3M629.4,405.2L631.5,432.5L636.7,449.3M644.1,436.7L663.0,440.9L671.4,438.8M654.6,432.5L660.9,459.8L673.5,474.5M667.2,440.9L679.8,468.2M663.0,443.0L669.3,468.2M675.6,497.6L679.8,527.0L677.7,545.9M669.3,522.8L671.4,545.9M698.7,380.0L699.7,428.3M699.7,413.6L747.0,414.6M721.8,414.6L722.8,468.2M734.4,414.6L734.4,440.9M747.0,380.0L748.0,428.3M709.9,219.5L724.7,212.9L736.2,227.7L719.7,235.9L709.9,219.5M716.4,216.2L728.0,232.0M714.8,227.7L730.3,220.1M700.0,189.9L749.3,232.6M751.0,199.7L752.6,232.6M736.2,180.0L749.3,199.7L759.2,222.8M749.3,235.9L748.7,239.9M780.0,347.5L793.8,364.2M767.7,346.4L772.4,357.6L785.5,377.4M713.2,351.1L752.6,351.1M700.0,364.2L752.6,364.2M700.0,377.4L752.6,377.4M700.0,390.5L749.3,390.5M700.0,407.0L746.1,407.0M713.2,347.9L713.2,410.3M726.3,347.9L726.3,410.3M739.5,347.9L739.5,410.3M709.9,180.0L713.2,219.5M661.9,346.3L655.2,350.6L617.6,363.1M562.6,303.0L565.1,343.1M565.1,303.0L617.6,300.5M590.3,300.5L591.3,340.6M607.6,301.3L607.6,340.6M565.1,318.1L617.6,318.1M565.1,328.1L590.1,329.3M639.8,310.3L636.4,312.5L630.1,308.0L630.1,301.6M641.3,346.9L647.6,378.1M650.2,355.6L660.2,373.1L666.2,379.1M617.6,340.6L630.1,353.1L635.1,368.1L635.7,378.5M587.6,355.6L587.6,465.7M593.8,358.1L593.8,465.7M587.6,393.1L599.7,393.8M595.1,413.1L599.1,412.5M587.6,438.2L599.7,438.9M522.5,328.1L523.8,368.1M500.0,343.1L540.0,340.6M500.0,368.1L587.6,368.1M500.0,388.1L582.6,388.1M532.5,388.1L532.5,428.2M550.1,368.1L550.1,428.2M565.1,368.1L566.3,443.2M500.0,408.1L582.6,409.4M522.5,418.2L582.6,420.7M557.6,433.2L585.1,433.2M686.3,346.9L693.7,379.7M617.6,301.3L617.6,340.6M562.6,303.0L540.0,318.1M510.0,354.3L511.3,408.1M198.4,197.9L220.7,192.8L240.9,188.8L273.2,185.7L301.6,184.3L321.8,183.7L354.1,180.7M182.2,174.6L184.3,186.7M200.4,168.5L203.5,198.9M207.5,167.5L212.6,196.8L213.6,215.0M226.7,163.5L230.8,190.8M238.9,160.4L240.9,188.8M252.0,158.4L259.1,186.7M285.4,152.4L286.4,184.7M234.8,189.8L236.8,241.3M276.3,185.7L279.3,237.3M288.4,184.7L289.4,235.3M302.6,184.3L303.6,235.3M313.7,183.7L314.7,204.9L321.8,186.7M236.8,243.4L261.1,238.3L289.4,235.3L321.8,233.2L354.1,234.3M259.1,239.3L261.1,279.8M301.6,235.3L305.6,251.4L306.6,279.8M311.7,234.3L312.7,249.4M319.8,233.2L321.8,249.4L305.6,251.4M329.9,234.3L331.9,279.8M343.0,186.7L343.0,233.2M331.9,200.9L343.0,186.7M269.2,275.7L305.6,274.7M190.3,186.7L212.6,196.8M748.8,236.0L746.4,260.0L744.0,271.2L740.0,284.0L742.4,292.0L752.0,306.4M728.0,248.8L732.8,260.0L742.4,269.6L752.0,280.8L758.4,288.8L768.0,303.2L777.6,316.0L787.2,332.0L792.0,346.1M744.0,271.2L752.0,280.8M787.2,272.8L790.4,284.0M723.2,280.8L726.4,296.8L729.6,306.4L720.0,319.2M680.0,280.8L692.8,290.4L707.2,300.0L715.2,306.4M678.4,290.4L688.0,296.8L700.8,303.2M688.0,277.6L683.2,292.0M696.0,284.0L689.6,300.0M704.0,290.4L697.6,303.2M712.0,295.2L707.2,304.8M736.0,290.4L729.6,306.4M748.8,300.0L742.4,319.2L750.4,322.4M758.4,309.6L752.0,322.4L755.2,332.0L768.0,344.8M739.2,316.0L752.0,322.4M696.0,322.4L697.6,335.2M713.6,328.8L714.4,338.4M726.4,338.4L727.2,346.1M742.4,338.4L744.0,346.1M640.0,304.8L676.8,305.6M640.0,316.0L664.0,316.0L676.8,319.2M640.0,325.6L676.8,326.4M646.4,290.4L646.4,325.6M664.0,305.6L664.8,325.6M670.4,305.6L671.2,326.4M651.2,268.0L659.2,272.8L672.0,284.0M640.0,272.8L651.2,274.4L652.0,284.0M656.0,285.6L656.8,304.8M640.0,293.6L672.0,295.2M22.8,398.4L38.0,396.5L60.8,397.2M28.5,430.7L39.9,432.6L57.0,430.7M36.1,445.9L41.8,453.5" stroke-width="1.8"/><path d="M25.0,282.6L46.3,287.1L43.8,313.9L15.0,312.6M400.2,170.1L400.2,250.1M356.4,225.6L420.2,223.9M425.2,155.0L500.3,153.8M422.7,285.2L500.3,286.4M525.0,275.2L610.1,276.4M527.5,230.1L527.5,275.2M98.8,468.1L100.1,565.7M150.2,406.8L185.2,406.8M678.4,252.0L688.0,256.8L697.6,263.2L710.4,272.8L723.2,280.8L736.0,290.4L748.8,300.0L758.4,309.6L768.0,322.4L779.2,335.2L787.2,346.1M694.4,335.2L707.2,328.8L720.0,319.2L732.8,306.4L748.8,296.8L758.4,288.8L771.2,280.8L787.2,272.8M720.0,346.1L736.0,332.0L742.4,319.2L752.0,306.4L766.4,303.2L784.0,292.0L791.2,287.2M694.4,335.2L752.0,338.4L768.0,338.4L796.0,340.0M640.0,338.4L676.8,332.0L681.6,332.0" stroke-width="2.2"/><path d="M346.7,385.7L346.7,401.3M404.3,338.0L404.3,354.0M373.7,364.2L373.7,377.6M259.6,457.1L272.7,457.1M332.7,435.6L332.7,452.0M289.2,478.6L303.6,478.6M298.8,489.6L298.8,504.4M339.0,515.7L339.0,529.3M339.4,529.3L339.4,542.2M365.1,418.8L365.1,433.6M403.9,414.6L403.9,433.6M348.5,483.1L361.6,483.1M348.5,503.6L366.3,503.6M390.6,532.1L390.6,542.2M295.3,551.5L295.3,562.1M282.1,571.8L292.7,571.8M292.7,572.3L304.5,572.3M270.3,634.5L281.6,634.5M321.3,552.7L338.9,552.7M321.3,596.4L339.1,596.4M367.5,578.5L379.8,578.5M402.8,569.9L402.8,580.0M345.1,620.8L363.1,620.8M321.3,641.1L338.3,641.1M401.7,610.0L401.7,623.4M402.1,646.5L407.3,646.5M428.9,320.6L454.7,320.6M429.4,343.7L439.5,343.7M485.6,340.1L485.6,352.9M446.3,392.1L459.9,392.1M490.0,352.9L490.0,361.1M491.4,361.1L491.4,371.7M478.3,379.1L499.2,379.1M511.3,352.9L511.3,365.4M433.9,410.2L455.4,410.2M413.4,451.6L433.7,451.6M488.0,416.4L488.0,441.6M498.9,431.0L528.2,431.0M541.6,396.5L541.6,406.8M540.2,406.8L540.2,416.9M542.6,431.2L542.6,446.0M427.9,472.8L427.9,485.8M413.4,504.6L425.8,504.6M433.1,502.3L433.1,507.5M458.8,485.3L475.9,485.3M537.9,485.1L546.4,485.1M524.0,518.5L539.8,518.5M526.7,551.7L526.7,564.9M529.8,564.9L529.8,576.6M518.5,666.1L531.7,666.1M424.0,123.0L450.0,123.0L436.0,140.0L424.0,128.0" stroke-width="2.4"/><path d="M405.1,509.6L413.4,509.6M399.3,522.4L413.4,522.4M404.4,689.5L413.4,689.5M413.4,541.9L559.9,541.9M413.4,514.0L458.8,514.0M425.8,497.2L425.8,514.0M450.6,505.4L458.8,505.4M413.4,527.3L435.7,527.3M413.4,533.8L422.4,533.8M467.7,513.6L467.7,525.4M466.3,533.9L466.3,541.9M473.8,522.5L483.6,522.5M413.4,553.2L429.6,553.2M429.6,547.8L446.5,547.8M425.0,570.1L425.0,584.0M435.3,593.7L435.3,603.4M446.5,553.4L459.3,553.4M452.0,576.0L452.0,589.2M446.5,583.3L452.0,583.3M452.0,581.1L461.0,581.1M462.6,589.2L462.6,603.4M462.6,595.7L470.3,595.7M480.5,551.4L498.4,551.4M491.8,551.4L491.8,558.7M488.3,558.7L488.3,564.5M490.8,569.3L495.5,569.3M489.8,594.8L499.7,594.8M511.5,585.4L511.5,595.6M413.4,640.3L467.9,640.3M413.4,626.1L467.9,626.1M424.9,617.7L424.9,626.1M413.4,634.2L431.7,634.2M423.9,626.1L423.9,634.2M424.2,667.7L436.5,667.7M436.5,648.4L452.8,648.4M436.5,665.2L452.9,665.2M435.0,687.1L449.7,687.1M493.8,615.3L512.7,615.3M481.1,623.7L481.1,640.9M505.3,623.7L505.3,632.1M503.8,632.1L503.8,640.9M500.2,640.9L500.2,662.4M467.9,653.1L485.9,653.1M481.5,681.6L481.5,695.4M481.5,693.0L497.2,693.0M497.2,680.5L518.5,680.5M510.0,670.3L518.5,670.3M120.0,642.4L135.0,651.0L145.0,655.0L160.0,656.0L185.0,656.0L205.0,651.0L225.0,648.6L250.0,648.0L280.0,651.5L310.0,653.0L356.0,654.0L401.0,658.0L462.0,664.0L480.0,663.0L505.0,656.0L530.0,646.0L550.0,638.7L567.6,631.0" stroke-width="2.6"/><path d="M303.5,300.3L303.5,316.8M247.8,354.9L276.6,354.9M374.9,347.9L391.4,347.9M241.2,436.8L288.7,436.8M259.6,448.8L288.7,448.8M320.6,435.6L320.6,468.6M320.6,452.0L348.5,452.0M289.2,468.6L289.2,542.2M241.2,489.5L269.5,489.5M325.2,468.6L325.2,515.7M307.0,529.9L307.0,542.2M325.4,529.3L348.5,529.3M377.0,401.3L377.0,433.6M348.5,447.5L367.9,447.5M395.8,445.8L413.4,445.8M362.2,459.6L362.2,472.2M348.5,526.9L366.8,526.9M261.1,580.1L261.1,604.5M321.3,585.4L367.5,585.4M351.4,572.8L367.5,572.8M367.5,587.2L394.3,587.2M363.1,626.0L392.2,626.0M384.4,640.0L384.4,648.8M413.4,310.6L497.5,310.6M428.9,310.6L428.9,331.6M526.0,291.7L526.0,352.9M429.5,352.9L429.5,369.3M433.7,369.3L433.7,381.7M446.3,383.0L478.3,383.0M455.4,401.4L455.4,420.0M483.5,441.6L483.5,472.8M553.9,416.9L553.9,446.0M556.1,446.0L556.1,472.8M413.4,497.2L458.8,497.2M523.1,472.8L523.1,511.0M537.3,541.9L537.3,564.9M520.4,586.7L559.9,586.7M530.1,603.4L530.1,623.1M518.5,677.3L547.5,677.3M536.7,677.3L536.7,695.5M156.4,350.2L170.2,350.2L170.2,362.7L156.4,362.7L156.4,350.2M440.2,167.6L441.4,260.2M705.2,160.1L703.1,178.3M714.2,179.1L715.2,175.1L725.2,172.6M630.1,148.0L700.2,160.1L717.7,166.3L735.2,176.3M152.7,538.7L250.3,538.2M229.0,450.6L229.0,538.2M185.2,636.1L248.2,636.1M230.2,566.9L230.2,581.1M687.7,576.1L665.2,573.6L642.7,574.9L627.6,578.6L615.1,588.6L600.1,596.1L575.1,601.1L552.6,602.4M596.4,531.1L598.5,531.1M685.2,553.6L684.0,571.1L675.2,568.6M567.6,631.2L480.0,663.7M701.5,547.3L702.7,553.6M669.3,413.6L673.5,434.6L684.0,459.8L687.1,472.4M600.0,470.3L637.8,469.2L687.1,471.3L726.0,470.3M759.6,394.7L772.2,392.6L765.9,401.0L759.6,394.7M752.6,390.5L772.4,397.1L762.5,390.5M582.6,340.6L617.6,340.6L640.0,337.1M500.0,354.3L540.0,353.1L582.6,340.6M541.3,318.1L541.3,368.1M540.0,428.2L541.3,443.2" stroke-width="2.8"/><path d="M208.1,338.0L413.4,338.0M303.2,338.0L303.2,401.3M247.8,366.8L303.2,366.8M359.2,338.0L359.2,401.3M303.2,368.2L359.2,368.2M359.2,364.2L413.4,364.2M348.5,401.3L348.5,542.2M241.2,468.6L348.5,468.6M288.7,401.3L288.7,468.6M241.2,510.4L289.2,510.4M289.2,515.7L348.5,515.7M348.5,459.6L413.4,459.6M321.3,542.2L321.3,647.4M193.7,604.5L321.3,604.5M282.1,542.2L282.1,580.1M321.3,610.0L413.4,610.0M363.1,610.0L363.1,646.2M413.4,352.9L628.3,352.9M454.7,310.6L454.7,352.9M497.5,320.8L526.0,320.8M526.0,316.1L561.2,316.1M528.2,352.9L528.2,472.8M413.4,401.4L528.2,401.4M520.4,564.9L559.9,564.9M354.0,129.0L390.0,123.0L422.0,121.0L501.0,121.0L530.0,127.0L562.0,135.5M100.0,623.6L110.0,633.6L120.0,642.4" stroke-width="3.0"/><path d="M406.8,551.8L406.8,558.0M406.4,603.6L413.4,603.6M401.7,617.5L413.4,617.5M401.0,652.4L413.4,652.4M406.0,683.1L406.0,689.5M441.8,506.8L450.6,506.8M435.7,514.0L435.7,541.9M413.4,519.3L421.6,519.3M435.7,521.2L446.7,521.2M435.7,535.9L445.5,535.9M458.8,521.1L467.7,521.1M485.5,531.4L485.5,541.9M508.6,511.0L508.6,526.3M514.4,526.3L514.4,541.9M514.4,534.4L524.0,534.4M480.5,541.9L480.5,603.4M429.6,541.9L429.6,570.1M422.0,561.2L422.0,570.1M438.9,541.9L438.9,547.8M435.7,556.8L435.7,562.2M425.0,577.4L433.8,577.4M427.1,584.0L427.1,603.4M413.4,593.0L427.1,593.0M446.5,559.0L459.3,559.0M459.3,552.0L480.5,552.0M459.3,558.3L480.5,558.3M452.0,567.9L452.0,576.0M470.3,589.2L470.3,603.4M488.6,541.9L488.6,551.4M480.5,558.7L498.4,558.7M498.4,555.7L520.4,555.7M506.5,541.9L506.5,555.7M510.1,555.7L510.1,564.5M500.2,564.5L500.2,585.4M490.2,577.1L490.2,585.4M500.2,575.4L520.4,575.4M508.7,575.4L508.7,585.4M489.8,585.4L489.8,603.4M413.4,617.7L436.7,617.7M448.1,603.4L448.1,614.4M454.3,626.1L454.3,640.3M413.4,647.6L436.5,647.6M436.5,658.6L467.9,658.6M444.6,640.3L444.6,648.4M462.1,640.3L462.1,645.4M452.9,658.6L452.9,675.3M413.4,687.3L435.0,687.3M426.1,687.3L426.1,695.8M449.7,675.3L449.7,695.9M458.8,675.3L458.8,688.1M467.9,640.9L559.9,640.9M512.7,603.4L512.7,640.9M467.9,608.6L481.0,608.6M512.7,630.9L532.3,630.9M522.3,630.9L522.3,640.9M518.5,640.9L518.5,695.8M467.9,662.4L518.5,662.4M467.9,647.8L476.9,647.8M476.5,653.1L476.5,662.4M485.9,649.9L500.2,649.9M494.8,640.9L494.8,649.9M500.2,652.5L518.5,652.5M506.9,680.5L506.9,691.5M47.5,290.1L65.1,300.1L82.6,310.1L95.1,317.6L130.1,340.2L160.2,352.7L180.2,362.7L190.2,367.7M162.7,185.0L167.7,202.5L172.7,225.1L175.2,245.1L172.7,270.1L170.2,290.1L170.2,320.2L165.2,342.7L160.2,367.7M353.9,131.3L358.9,307.7M425.2,261.4L500.3,262.7M546.3,133.8L546.3,285.2L543.8,290.2M152.2,463.1L152.2,565.7M147.6,368.0L147.6,400.5M154.7,566.1L160.2,636.1L157.7,656.2M640.0,284.0L656.0,285.6L672.0,284.0" stroke-width="3.2"/><path d="M399.5,551.8L413.4,551.8M402.9,564.4L413.4,564.4M405.5,558.0L405.5,564.4M401.4,666.4L413.4,666.4M401.1,632.5L413.4,632.5M407.3,640.0L407.3,648.3M407.3,647.1L413.4,647.1M401.2,683.1L413.4,683.1M402.8,673.1L413.4,673.1M497.7,472.8L497.7,541.9M458.8,472.8L458.8,541.9M425.8,507.5L441.8,507.5M431.8,507.5L431.8,514.0M421.6,514.0L421.6,527.3M421.6,521.9L435.7,521.9M422.4,527.3L422.4,541.9M422.4,534.0L435.7,534.0M435.7,527.9L458.8,527.9M445.5,527.9L445.5,541.9M468.4,504.4L468.4,513.6M473.8,513.6L473.8,541.9M458.8,525.4L473.8,525.4M467.7,519.2L473.8,519.2M473.8,531.4L497.7,531.4M524.0,511.0L524.0,541.9M497.7,535.9L505.4,535.9M413.4,570.1L446.5,570.1M422.1,553.2L422.1,561.2M436.1,547.8L436.1,556.8M438.0,562.2L438.0,570.1M433.8,578.7L446.5,578.7M420.7,584.0L420.7,593.0M419.6,593.0L419.6,598.2M436.5,584.0L436.5,593.7M446.5,589.2L480.5,589.2M470.9,578.0L470.9,589.2M446.5,596.0L455.8,596.0M455.8,597.7L462.6,597.7M480.5,564.5L520.4,564.5M480.5,585.4L520.4,585.4M480.5,577.1L500.2,577.1M490.8,564.5L490.8,577.1M480.5,570.3L490.8,570.3M480.5,596.4L489.8,596.4M499.7,595.6L520.4,595.6M436.7,603.4L436.7,626.1M425.5,610.9L436.7,610.9M451.5,614.4L451.5,626.1M431.7,632.9L444.3,632.9M454.3,632.5L467.9,632.5M413.4,675.3L467.9,675.3M425.3,647.6L425.3,657.5M413.4,668.7L424.2,668.7M452.8,650.6L467.9,650.6M435.0,675.3L435.0,695.9M427.1,675.3L427.1,687.3M449.7,688.1L467.9,688.1M467.9,623.7L512.7,623.7M481.0,603.4L481.0,615.9M481.0,610.7L493.8,610.7M484.9,615.9L484.9,623.7M501.3,603.4L501.3,615.3M467.9,631.1L481.1,631.1M476.9,640.9L476.9,653.1M467.9,674.0L483.1,674.0M483.1,673.7L497.2,673.7M497.2,691.5L518.5,691.5M510.7,691.5L510.7,695.8M600.1,139.5L630.1,148.0M687.1,464.0L688.2,545.9M677.2,347.6L668.2,378.7M678.4,252.0L675.2,264.8L672.0,284.0L675.2,300.0L680.0,316.0L681.6,332.0L680.0,346.1M676.8,332.0L688.0,346.1" stroke-width="4.0"/></g><path d="M75.8,212.0L92.0,199.0L108.0,190.0L135.0,184.0L165.0,178.0L200.0,168.0L260.0,152.0L300.0,142.0L354.0,129.0L390.0,123.0L422.0,121.0L501.0,121.0L530.0,127.0L562.0,135.5L585.0,138.0L610.0,141.5L635.0,150.0L659.0,153.7L707.0,160.0L720.0,166.0L731.8,174.0L745.0,187.0L756.0,202.0L768.0,227.0L777.0,247.0L785.0,272.0L790.5,295.0L793.5,321.0L794.5,344.0L792.5,354.0L785.0,371.0L772.0,390.5L762.0,407.0L755.0,416.0L747.0,428.0L738.6,443.0L728.0,464.0L720.0,491.0L712.7,523.6L705.0,548.6L700.0,561.0L695.0,563.6L687.7,576.0L677.7,586.0L665.0,598.6L652.7,606.0L630.0,611.0L610.0,616.0L590.0,623.7L567.6,631.0L550.0,638.7L530.0,646.0L505.0,656.0L480.0,663.0L462.0,664.0L401.0,658.0L356.0,654.0L310.0,653.0L280.0,651.5L250.0,648.0L225.0,648.6L205.0,651.0L185.0,656.0L160.0,656.0L145.0,655.0L135.0,651.0L120.0,642.4L110.0,633.6L100.0,623.6L85.0,611.0L72.6,599.8L65.0,586.0L58.8,568.6L57.0,556.0L56.3,506.0L53.8,500.6L47.5,475.6L40.0,455.6L32.5,443.0L27.5,420.5L22.5,395.5L18.8,368.0L14.0,345.0L12.0,330.0L12.0,312.0L18.0,294.0L24.0,282.0L30.0,270.0L45.5,245.6L60.6,227.4Z" stroke-width="2.1"/></g></defs>
<defs><clipPath id="c0"><path d="M421.40,387.50L421.40,332.57A54.93,54.93 0 0 1 466.24,355.77ZM421.40,277.64A109.86,109.86 0 0 1 512.20,325.66L466.80,356.58A54.93,54.93 0 0 0 421.40,332.57ZM421.40,222.71A164.79,164.79 0 0 1 562.09,301.70L515.19,330.30A109.86,109.86 0 0 0 421.40,277.64ZM421.40,167.79A219.71,219.71 0 0 1 609.81,274.47L562.71,302.73A164.79,164.79 0 0 0 421.40,222.71ZM421.40,112.86A274.64,274.64 0 0 1 661.93,254.93L613.82,281.45A219.71,219.71 0 0 0 421.40,167.79ZM421.40,57.93A329.57,329.57 0 0 1 712.98,233.88L664.38,259.49A274.64,274.64 0 0 0 421.40,112.86ZM421.40,3.00A384.50,384.50 0 0 1 770.51,226.37L720.64,249.39A329.57,329.57 0 0 0 421.40,57.93Z"/></clipPath><clipPath id="c1"><path d="M421.40,387.50L466.24,355.77A54.93,54.93 0 0 1 473.31,405.46ZM512.20,325.66A109.86,109.86 0 0 1 524.12,426.46L472.76,406.98A54.93,54.93 0 0 0 466.80,356.58ZM562.09,301.70A164.79,164.79 0 0 1 569.30,460.16L520.00,435.94A109.86,109.86 0 0 0 515.19,330.30ZM609.81,274.47A219.71,219.71 0 0 1 616.54,488.48L567.75,463.23A164.79,164.79 0 0 0 562.71,302.73ZM661.93,254.93A274.64,274.64 0 0 1 657.21,528.29L610.05,500.13A219.71,219.71 0 0 0 613.82,281.45ZM712.98,233.88A329.57,329.57 0 0 1 701.14,561.75L654.52,532.71A274.64,274.64 0 0 0 664.38,259.49ZM770.51,226.37A384.50,384.50 0 0 1 730.54,616.14L686.37,583.47A329.57,329.57 0 0 0 720.64,249.39Z"/></clipPath><clipPath id="c2"><path d="M421.40,387.50L473.31,405.46A54.93,54.93 0 0 1 421.05,442.43ZM524.12,426.46A109.86,109.86 0 0 1 416.92,497.27L419.16,442.38A54.93,54.93 0 0 0 472.76,406.98ZM569.30,460.16A164.79,164.79 0 0 1 395.14,550.18L403.89,495.95A109.86,109.86 0 0 0 520.00,435.94ZM616.54,488.48A219.71,219.71 0 0 1 382.94,603.82L392.56,549.74A164.79,164.79 0 0 0 567.75,463.23ZM657.21,528.29A274.64,274.64 0 0 1 359.03,654.97L371.50,601.47A219.71,219.71 0 0 0 610.05,500.13ZM701.14,561.75A329.57,329.57 0 0 1 342.53,707.49L355.67,654.16A274.64,274.64 0 0 0 654.52,532.71ZM730.54,616.14A384.50,384.50 0 0 1 305.92,754.25L322.42,701.86A329.57,329.57 0 0 0 686.37,583.47Z"/></clipPath><clipPath id="c3"><path d="M421.40,387.50L421.05,442.43A54.93,54.93 0 0 1 374.48,416.05ZM416.92,497.27A109.86,109.86 0 0 1 324.69,439.62L373.05,413.56A54.93,54.93 0 0 0 419.16,442.38ZM395.14,550.18A164.79,164.79 0 0 1 265.56,441.07L317.51,423.21A109.86,109.86 0 0 0 403.89,495.95ZM382.94,603.82A219.71,219.71 0 0 1 212.44,455.40L264.68,438.42A164.79,164.79 0 0 0 392.56,549.74ZM359.03,654.97A274.64,274.64 0 0 1 156.13,458.65L209.19,444.42A219.71,219.71 0 0 0 371.50,601.47ZM342.53,707.49A329.57,329.57 0 0 1 103.62,474.88L156.59,460.32A274.64,274.64 0 0 0 355.67,654.16ZM305.92,754.25A384.50,384.50 0 0 1 47.40,476.76L100.83,464.01A329.57,329.57 0 0 0 322.42,701.86Z"/></clipPath><clipPath id="c4"><path d="M421.40,387.50L374.48,416.05A54.93,54.93 0 0 1 371.41,364.74ZM324.69,439.62A109.86,109.86 0 0 1 323.26,338.13L372.33,362.82A54.93,54.93 0 0 0 373.05,413.56ZM265.56,441.07A164.79,164.79 0 0 1 281.26,300.82L327.97,329.71A109.86,109.86 0 0 0 317.51,423.21ZM212.44,455.40A219.71,219.71 0 0 1 238.91,265.15L284.53,295.73A164.79,164.79 0 0 0 264.68,438.42ZM156.13,458.65A274.64,274.64 0 0 1 203.49,220.34L247.07,253.77A219.71,219.71 0 0 0 209.19,444.42ZM103.62,474.88A329.57,329.57 0 0 1 167.65,177.20L209.94,212.25A274.64,274.64 0 0 0 156.59,460.32ZM47.40,476.76A384.50,384.50 0 0 1 145.91,119.28L185.26,157.59A329.57,329.57 0 0 0 100.83,464.01Z"/></clipPath><clipPath id="c5"><path d="M421.40,387.50L371.41,364.74A54.93,54.93 0 0 1 421.40,332.57ZM323.26,338.13A109.86,109.86 0 0 1 421.40,277.64L421.40,332.57A54.93,54.93 0 0 0 372.33,362.82ZM281.26,300.82A164.79,164.79 0 0 1 421.40,222.71L421.40,277.64A109.86,109.86 0 0 0 327.97,329.71ZM238.91,265.15A219.71,219.71 0 0 1 421.40,167.79L421.40,222.71A164.79,164.79 0 0 0 284.53,295.73ZM203.49,220.34A274.64,274.64 0 0 1 421.40,112.86L421.40,167.79A219.71,219.71 0 0 0 247.07,253.77ZM167.65,177.20A329.57,329.57 0 0 1 421.40,57.93L421.40,112.86A274.64,274.64 0 0 0 209.94,212.25ZM145.91,119.28A384.50,384.50 0 0 1 421.40,3.00L421.40,57.93A329.57,329.57 0 0 0 185.26,157.59Z"/></clipPath></defs>
<use href="#R" stroke="#2e2e2e"/>
<g id="sectors"><path d="M421.40,387.50L421.40,332.57A54.93,54.93 0 0 1 466.24,355.77Z" fill="#f5b7b4"/><path d="M421.40,387.50L466.24,355.77A54.93,54.93 0 0 1 473.31,405.46Z" fill="#e0714e"/><path d="M421.40,387.50L473.31,405.46A54.93,54.93 0 0 1 421.05,442.43Z" fill="#c6e1ae"/><path d="M421.40,387.50L421.05,442.43A54.93,54.93 0 0 1 374.48,416.05Z" fill="#86b669"/><path d="M421.40,387.50L374.48,416.05A54.93,54.93 0 0 1 371.41,364.74Z" fill="#f9cf9a"/><path d="M421.40,387.50L371.41,364.74A54.93,54.93 0 0 1 421.40,332.57Z" fill="#f3a55d"/><path d="M421.40,277.64A109.86,109.86 0 0 1 512.20,325.66L466.80,356.58A54.93,54.93 0 0 0 421.40,332.57Z" fill="#f5b7b4"/><path d="M512.20,325.66A109.86,109.86 0 0 1 524.12,426.46L472.76,406.98A54.93,54.93 0 0 0 466.80,356.58Z" fill="#e0714e"/><path d="M524.12,426.46A109.86,109.86 0 0 1 416.92,497.27L419.16,442.38A54.93,54.93 0 0 0 472.76,406.98Z" fill="#c6e1ae"/><path d="M416.92,497.27A109.86,109.86 0 0 1 324.69,439.62L373.05,413.56A54.93,54.93 0 0 0 419.16,442.38Z" fill="#86b669"/><path d="M324.69,439.62A109.86,109.86 0 0 1 323.26,338.13L372.33,362.82A54.93,54.93 0 0 0 373.05,413.56Z" fill="#f9cf9a"/><path d="M323.26,338.13A109.86,109.86 0 0 1 421.40,277.64L421.40,332.57A54.93,54.93 0 0 0 372.33,362.82Z" fill="#f3a55d"/><path d="M421.40,222.71A164.79,164.79 0 0 1 562.09,301.70L515.19,330.30A109.86,109.86 0 0 0 421.40,277.64Z" fill="#f5b7b4"/><path d="M562.09,301.70A164.79,164.79 0 0 1 569.30,460.16L520.00,435.94A109.86,109.86 0 0 0 515.19,330.30Z" fill="#e0714e"/><path d="M569.30,460.16A164.79,164.79 0 0 1 395.14,550.18L403.89,495.95A109.86,109.86 0 0 0 520.00,435.94Z" fill="#c6e1ae"/><path d="M395.14,550.18A164.79,164.79 0 0 1 265.56,441.07L317.51,423.21A109.86,109.86 0 0 0 403.89,495.95Z" fill="#86b669"/><path d="M265.56,441.07A164.79,164.79 0 0 1 281.26,300.82L327.97,329.71A109.86,109.86 0 0 0 317.51,423.21Z" fill="#f9cf9a"/><path d="M281.26,300.82A164.79,164.79 0 0 1 421.40,222.71L421.40,277.64A109.86,109.86 0 0 0 327.97,329.71Z" fill="#f3a55d"/><path d="M421.40,167.79A219.71,219.71 0 0 1 609.81,274.47L562.71,302.73A164.79,164.79 0 0 0 421.40,222.71Z" fill="#f5b7b4"/><path d="M609.81,274.47A219.71,219.71 0 0 1 616.54,488.48L567.75,463.23A164.79,164.79 0 0 0 562.71,302.73Z" fill="#e0714e"/><path d="M616.54,488.48A219.71,219.71 0 0 1 382.94,603.82L392.56,549.74A164.79,164.79 0 0 0 567.75,463.23Z" fill="#c6e1ae"/><path d="M382.94,603.82A219.71,219.71 0 0 1 212.44,455.40L264.68,438.42A164.79,164.79 0 0 0 392.56,549.74Z" fill="#86b669"/><path d="M212.44,455.40A219.71,219.71 0 0 1 238.91,265.15L284.53,295.73A164.79,164.79 0 0 0 264.68,438.42Z" fill="#f9cf9a"/><path d="M238.91,265.15A219.71,219.71 0 0 1 421.40,167.79L421.40,222.71A164.79,164.79 0 0 0 284.53,295.73Z" fill="#f3a55d"/><path d="M421.40,112.86A274.64,274.64 0 0 1 661.93,254.93L613.82,281.45A219.71,219.71 0 0 0 421.40,167.79Z" fill="#f5b7b4"/><path d="M661.93,254.93A274.64,274.64 0 0 1 657.21,528.29L610.05,500.13A219.71,219.71 0 0 0 613.82,281.45Z" fill="#e0714e"/><path d="M657.21,528.29A274.64,274.64 0 0 1 359.03,654.97L371.50,601.47A219.71,219.71 0 0 0 610.05,500.13Z" fill="#c6e1ae"/><path d="M359.03,654.97A274.64,274.64 0 0 1 156.13,458.65L209.19,444.42A219.71,219.71 0 0 0 371.50,601.47Z" fill="#86b669"/><path d="M156.13,458.65A274.64,274.64 0 0 1 203.49,220.34L247.07,253.77A219.71,219.71 0 0 0 209.19,444.42Z" fill="#f9cf9a"/><path d="M203.49,220.34A274.64,274.64 0 0 1 421.40,112.86L421.40,167.79A219.71,219.71 0 0 0 247.07,253.77Z" fill="#f3a55d"/><path d="M421.40,57.93A329.57,329.57 0 0 1 712.98,233.88L664.38,259.49A274.64,274.64 0 0 0 421.40,112.86Z" fill="#f5b7b4"/><path d="M712.98,233.88A329.57,329.57 0 0 1 701.14,561.75L654.52,532.71A274.64,274.64 0 0 0 664.38,259.49Z" fill="#e0714e"/><path d="M701.14,561.75A329.57,329.57 0 0 1 342.53,707.49L355.67,654.16A274.64,274.64 0 0 0 654.52,532.71Z" fill="#c6e1ae"/><path d="M342.53,707.49A329.57,329.57 0 0 1 103.62,474.88L156.59,460.32A274.64,274.64 0 0 0 355.67,654.16Z" fill="#86b669"/><path d="M103.62,474.88A329.57,329.57 0 0 1 167.65,177.20L209.94,212.25A274.64,274.64 0 0 0 156.59,460.32Z" fill="#f9cf9a"/><path d="M167.65,177.20A329.57,329.57 0 0 1 421.40,57.93L421.40,112.86A274.64,274.64 0 0 0 209.94,212.25Z" fill="#f3a55d"/><path d="M421.40,3.00A384.50,384.50 0 0 1 770.51,226.37L720.64,249.39A329.57,329.57 0 0 0 421.40,57.93Z" fill="#f5b7b4"/><path d="M770.51,226.37A384.50,384.50 0 0 1 730.54,616.14L686.37,583.47A329.57,329.57 0 0 0 720.64,249.39Z" fill="#e0714e"/><path d="M730.54,616.14A384.50,384.50 0 0 1 305.92,754.25L322.42,701.86A329.57,329.57 0 0 0 686.37,583.47Z" fill="#c6e1ae"/><path d="M305.92,754.25A384.50,384.50 0 0 1 47.40,476.76L100.83,464.01A329.57,329.57 0 0 0 322.42,701.86Z" fill="#86b669"/><path d="M47.40,476.76A384.50,384.50 0 0 1 145.91,119.28L185.26,157.59A329.57,329.57 0 0 0 100.83,464.01Z" fill="#f9cf9a"/><path d="M145.91,119.28A384.50,384.50 0 0 1 421.40,3.00L421.40,57.93A329.57,329.57 0 0 0 185.26,157.59Z" fill="#f3a55d"/></g>
<g clip-path="url(#c0)"><use href="#R" stroke="#b5706f"/></g><g clip-path="url(#c1)"><use href="#R" stroke="#a5342a"/></g><g clip-path="url(#c2)"><use href="#R" stroke="#809c6e"/></g><g clip-path="url(#c3)"><use href="#R" stroke="#3d7c3a"/></g><g clip-path="url(#c4)"><use href="#R" stroke="#b98a50"/></g><g clip-path="url(#c5)"><use href="#R" stroke="#b2612a"/></g>
<g id="grid" fill="none" stroke="#fff"><path d="M421.40,387.50L421.40,332.57M421.40,387.50L466.24,355.77M421.40,387.50L473.31,405.46M421.40,387.50L421.05,442.43M421.40,387.50L374.48,416.05M421.40,387.50L371.41,364.74M421.40,332.57L421.40,277.64M466.80,356.58L512.20,325.66M472.76,406.98L524.12,426.46M419.16,442.38L416.92,497.27M373.05,413.56L324.69,439.62M372.33,362.82L323.26,338.13M421.40,277.64L421.40,222.71M515.19,330.30L562.09,301.70M520.00,435.94L569.30,460.16M403.89,495.95L395.14,550.18M317.51,423.21L265.56,441.07M327.97,329.71L281.26,300.82M421.40,222.71L421.40,167.79M562.71,302.73L609.81,274.47M567.75,463.23L616.54,488.48M392.56,549.74L382.94,603.82M264.68,438.42L212.44,455.40M284.53,295.73L238.91,265.15M421.40,167.79L421.40,112.86M613.82,281.45L661.93,254.93M610.05,500.13L657.21,528.29M371.50,601.47L359.03,654.97M209.19,444.42L156.13,458.65M247.07,253.77L203.49,220.34M421.40,112.86L421.40,57.93M664.38,259.49L712.98,233.88M654.52,532.71L701.14,561.75M355.67,654.16L342.53,707.49M156.59,460.32L103.62,474.88M209.94,212.25L167.65,177.20M421.40,57.93L421.40,3.00M720.64,249.39L770.51,226.37M686.37,583.47L730.54,616.14M322.42,701.86L305.92,754.25M100.83,464.01L47.40,476.76M185.26,157.59L145.91,119.28" stroke-width="2.6"/><g stroke-width="2.1"><circle cx="421.4" cy="387.5" r="54.93"/><circle cx="421.4" cy="387.5" r="109.86"/><circle cx="421.4" cy="387.5" r="164.79"/><circle cx="421.4" cy="387.5" r="219.71"/><circle cx="421.4" cy="387.5" r="274.64"/><circle cx="421.4" cy="387.5" r="329.57"/></g></g>
<g class="lab"><text x="458.0" y="353.7">15.2%</text><text x="456.0" y="398.7">15.1%</text><text x="458.0" y="421.9">19.8%</text><text x="397.6" y="435.7">16.2%</text><text x="394.0" y="395.9">15.5%</text><text x="396.2" y="365.7">18.2%</text><text x="457.0" y="321.7">15.5%</text><text x="501.0" y="381.3">15.3%</text><text x="464.0" y="465.1">19.9%</text><text x="374.7" y="465.9">16.5%</text><text x="336.2" y="400.5">15.3%</text><text x="375.6" y="325.5">17.6%</text><text x="486.0" y="274.7">16.3%</text><text x="557.3" y="388.7">16%</text><text x="481.0" y="517.4">20.3%</text><text x="330.2" y="500.3">17.2%</text><text x="281.6" y="379.7">14.1%</text><text x="351.4" y="274.7">16.2%</text><text x="513.5" y="227.2">16.4%</text><text x="612.4" y="388.7">16.2%</text><text x="503.8" y="568.4">20.2%</text><text x="291.8" y="540.7">17.2%</text><text x="227.5" y="367.7">14.4%</text><text x="327.6" y="225.1">15.6%</text><text x="546.2" y="182.4">17%</text><text x="666.7" y="408.1">16.6%</text><text x="515.7" y="623.1">20.1%</text><text x="245.8" y="573.3">17.2%</text><text x="174.4" y="346.4">14.6%</text><text x="309.4" y="172.0">14.6%</text><text x="575.5" y="135.5">17.3%</text><text x="721.8" y="429.7">16.6%</text><text x="533.0" y="676.0">20%</text><text x="207.0" y="612.0">16.9%</text><text x="121.3" y="330.3">15.3%</text><text x="290.7" y="120.5">14%</text><text x="612.1" y="93.5">18.1%</text><text x="775.8" y="446.7">17%</text><text x="530.3" y="736.1">19.7%</text><text x="156.8" y="638.7">16.4%</text><text x="74.3" y="298.9">16%</text><text x="281.6" y="64.8">12.7%</text></g>
<text class="cjk" x="879.2" y="306.8" style="letter-spacing:0.2px">游客情感感知</text>
<rect x="887" y="333.5" width="42.5" height="21" fill="#f5b7b4"/><text class="cjk" x="956.5" y="351.1">美丽</text><rect x="887" y="377.8" width="42.5" height="21" fill="#e0714e"/><text class="cjk" x="956.5" y="395.4">活泼</text><rect x="887" y="422.1" width="42.5" height="21" fill="#c6e1ae"/><text class="cjk" x="956.5" y="439.7">安全</text><rect x="887" y="466.4" width="42.5" height="21" fill="#86b669"/><text class="cjk" x="956.5" y="484.0">富有</text><rect x="887" y="510.7" width="42.5" height="21" fill="#f9cf9a"/><text class="cjk" x="956.5" y="528.3">无聊</text><rect x="887" y="555.0" width="42.5" height="21" fill="#f3a55d"/><text class="cjk" x="956.5" y="572.6">压抑</text>
</svg>
</body></html>
